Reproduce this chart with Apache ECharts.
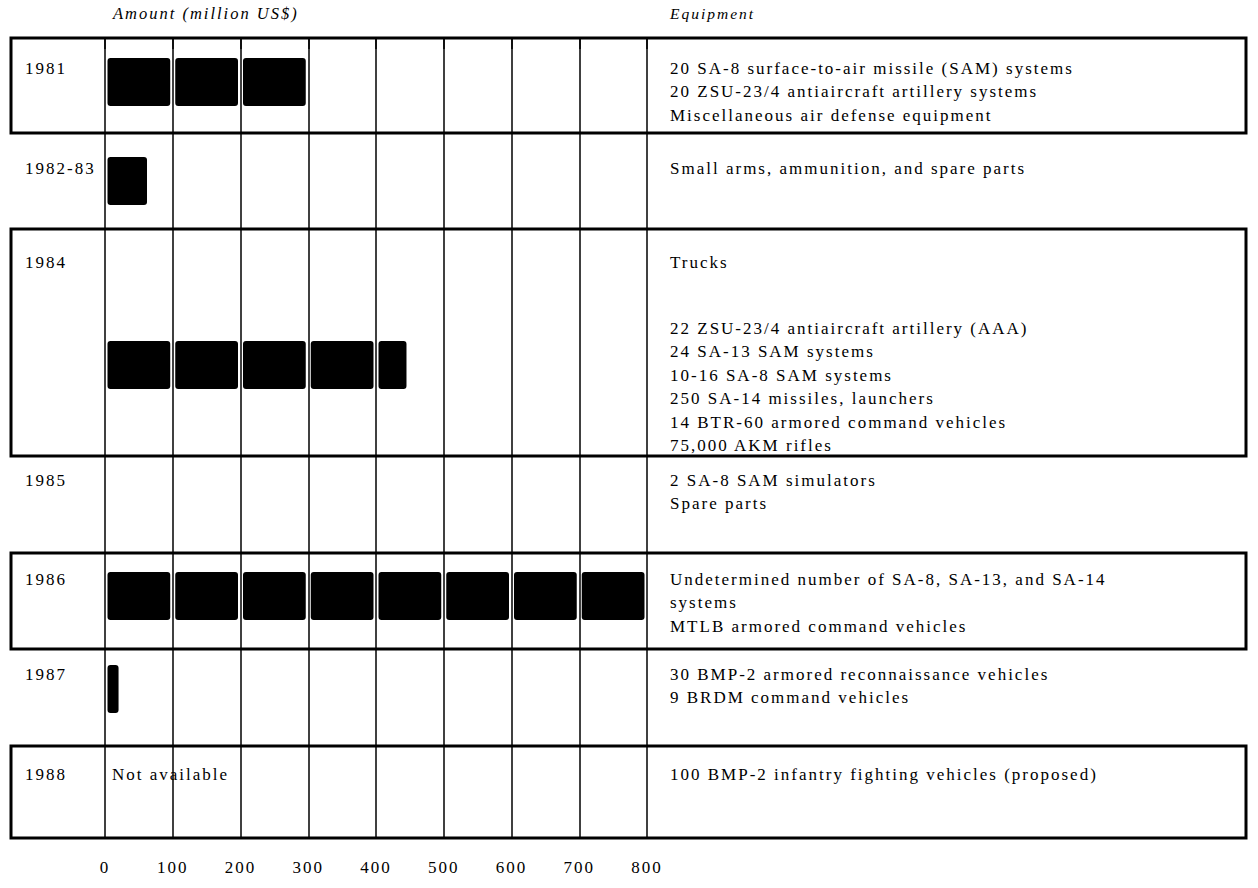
<!DOCTYPE html>
<html>
<head>
<meta charset="utf-8">
<script src="https://cdn.jsdelivr.net/npm/echarts@6/dist/echarts.min.js"></script>
<style>
html,body{margin:0;padding:0;background:#fff;}
#c{width:1258px;height:888px;}
#c text{letter-spacing:2px;}
</style>
</head>
<body>
<div id="c"></div>
<script>
// ---------- DATA ----------
const years = ['1981', '1982-83', '1984', '1985', '1986', '1987', '1988'];
const amounts = [300, 62, 445, 0, 800, 20, null]; // million US$, null = not available
const equipment = [
  [['20 SA-8 surface-to-air missile (SAM) systems', '20 ZSU-23/4 antiaircraft artillery systems', 'Miscellaneous air defense equipment']],
  [['Small arms, ammunition, and spare parts']],
  [['Trucks'], ['22 ZSU-23/4 antiaircraft artillery (AAA)', '24 SA-13 SAM systems', '10-16 SA-8 SAM systems', '250 SA-14 missiles, launchers', '14 BTR-60 armored command vehicles', '75,000 AKM rifles']],
  [['2 SA-8 SAM simulators', 'Spare parts']],
  [['Undetermined number of SA-8, SA-13, and SA-14', 'systems', 'MTLB armored command vehicles']],
  [['30 BMP-2 armored reconnaissance vehicles', '9 BRDM command vehicles']],
  [['100 BMP-2 infantry fighting vehicles (proposed)']]
];
const xTicks = [0, 100, 200, 300, 400, 500, 600, 700, 800];
const amountTitle = 'Amount (million US$)';
const equipmentTitle = 'Equipment';
const notAvailableText = 'Not available';

// ---------- LAYOUT (positions / styles, not data) ----------
const L = {
  gridTop: 38, gridBottom: 838, left: 105, right: 647,
  rowEdges: [0, 95, 191, 418, 515, 611, 708, 800],   // in y-axis units (px from grid top)
  boxed: [true, false, true, false, true, false, true],
  textY: [[30], [130], [224, 290], [442], [541], [636], [736]],
  barY: [44, 143, 327, null, 558, 651, null],
  barH: 48, lineH: 23.5,
  boxLeft: 11, boxRight: 1246,
  yearX: 25, equipX: 670, naX: 112,
  gap: 2.5, radius: 3
};
const FONT = '"Liberation Serif", "Times New Roman", serif';
const FS = 17;

function renderRow(params, api) {
  const i = params.dataIndex;
  const kids = [];
  const yTop = api.coord([0, L.rowEdges[i]])[1];
  const yBot = api.coord([0, L.rowEdges[i + 1]])[1];
  if (L.boxed[i]) {
    kids.push({
      type: 'rect', z2: 10,
      shape: { x: L.boxLeft, y: yTop, width: L.boxRight - L.boxLeft, height: yBot - yTop },
      style: { fill: 'none', stroke: '#000', lineWidth: 3 }
    });
  }
  const firstY = api.coord([0, L.textY[i][0]])[1];
  kids.push({
    type: 'text', z2: 12, x: L.yearX, y: firstY,
    style: { text: years[i], fill: '#000', fontFamily: FONT, fontSize: FS, align: 'left', verticalAlign: 'middle' }
  });
  equipment[i].forEach((grp, g) => {
    const gy = api.coord([0, L.textY[i][g]])[1];
    grp.forEach((line, k) => {
      kids.push({
        type: 'text', z2: 12, x: L.equipX, y: gy + k * L.lineH,
        style: { text: line, fill: '#000', fontFamily: FONT, fontSize: FS, align: 'left', verticalAlign: 'middle' }
      });
    });
  });
  const v = amounts[i];
  if (v === null) {
    kids.push({
      type: 'text', z2: 12, x: L.naX, y: firstY,
      style: { text: notAvailableText, fill: '#000', fontFamily: FONT, fontSize: FS, align: 'left', verticalAlign: 'middle' }
    });
  } else if (v > 0 && L.barY[i] !== null) {
    const cy = api.coord([0, L.barY[i]])[1];
    const h = L.barH;
    for (let s = 0; s < v; s += 100) {
      const e = Math.min(s + 100, v);
      const x0 = api.coord([s, 0])[0] + L.gap;
      const x1 = api.coord([e, 0])[0] - (e % 100 === 0 ? L.gap : 0);
      kids.push({
        type: 'rect', z2: 8,
        shape: { x: x0, y: cy - h / 2, width: Math.max(1, x1 - x0), height: h, r: L.radius },
        style: { fill: '#000' }
      });
    }
  }
  return { type: 'group', children: kids };
}

const chart = echarts.init(document.getElementById('c'), null, { renderer: 'svg' });
chart.setOption({
  backgroundColor: '#fff',
  animation: false,
  grid: { left: L.left, right: 1258 - L.right, top: L.gridTop, bottom: 888 - L.gridBottom, containLabel: false },
  xAxis: {
    type: 'value', min: xTicks[0], max: xTicks[xTicks.length - 1], interval: 100,
    axisLine: { show: false },
    axisTick: { show: true, length: 11, lineStyle: { color: '#000', width: 1.5 } },
    splitLine: { show: true, lineStyle: { color: '#000', width: 1.5 } },
    axisLabel: { color: '#000', fontFamily: FONT, fontSize: FS, margin: 21 }
  },
  yAxis: { type: 'value', inverse: true, min: 0, max: 800, show: false },
  graphic: [
    { type: 'text', x: 113, y: 13, style: { text: amountTitle, fill: '#000', fontFamily: FONT, fontSize: 16.5, fontStyle: 'italic', verticalAlign: 'middle' } },
    { type: 'text', x: L.equipX, y: 13, style: { text: equipmentTitle, fill: '#000', fontFamily: FONT, fontSize: 15.5, fontStyle: 'italic', verticalAlign: 'middle' } }
  ],
  series: [{
    type: 'custom', clip: false, silent: true,
    renderItem: renderRow,
    encode: { x: 0, y: 1 },
    data: years.map((_, i) => [amounts[i] === null ? 0 : amounts[i], L.rowEdges[i]])
  }]
});
</script>
</body>
</html>
